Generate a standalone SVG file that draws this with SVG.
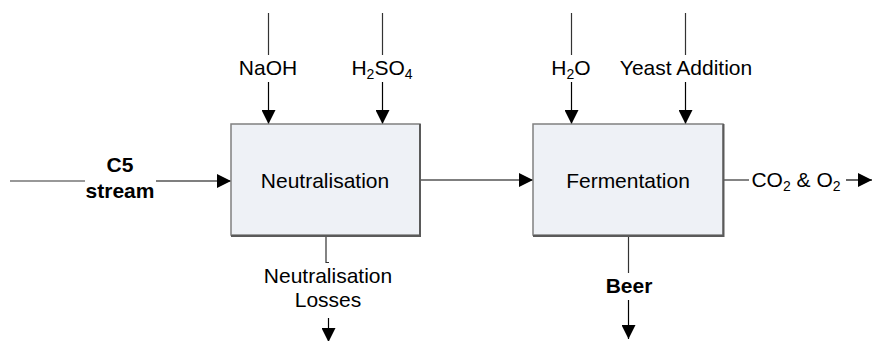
<svg xmlns="http://www.w3.org/2000/svg" width="873" height="341" viewBox="0 0 873 341">
  <defs>
    <marker id="arrow" viewBox="0 0 14 14" refX="14" refY="7" markerWidth="14" markerHeight="14" markerUnits="userSpaceOnUse" orient="auto">
      <path d="M0,0 L14,7 L0,14 Z" fill="#000"/>
    </marker>
    <style>
      .box { fill: #eef1f6; stroke: #808080; stroke-width: 1.5; }
      .shadow { fill: none; stroke: #5a5a5a; stroke-width: 2; }
      .line { fill: none; stroke: #333; stroke-width: 1.2; }
      .flow { fill: none; stroke: #000; stroke-width: 1.2; marker-end: url(#arrow); }
      text { font-family: "Liberation Sans", Arial, sans-serif; font-size: 21px; fill: #000; text-anchor: middle; }
      .bold { font-weight: bold; }
      .sub { font-size: 14px; }
    </style>
  </defs>

  <!-- connectors -->
  <g id="connectors">
    <!-- C5 stream feed -->
    <line class="line" x1="10" y1="181" x2="85" y2="181" stroke="#555"/>
    <line class="flow" x1="156" y1="181" x2="231" y2="181"/>
    <!-- NaOH -->
    <line class="line" x1="268.5" y1="13" x2="268.5" y2="55"/>
    <line class="flow" x1="268.5" y1="82" x2="268.5" y2="124"/>
    <!-- H2SO4 -->
    <line class="line" x1="382.5" y1="13" x2="382.5" y2="55"/>
    <line class="flow" x1="382.5" y1="82" x2="382.5" y2="124"/>
    <!-- Neutralisation to Fermentation -->
    <line class="flow" x1="420" y1="180" x2="533" y2="180"/>
    <!-- Neutralisation losses -->
    <path class="line" d="M326,236 V262.5 H329"/>
    <line class="flow" x1="328.5" y1="318" x2="328.5" y2="342"/>
    <!-- H2O -->
    <line class="line" x1="571.5" y1="13" x2="571.5" y2="55"/>
    <line class="flow" x1="571.5" y1="82" x2="571.5" y2="124"/>
    <!-- Yeast addition -->
    <line class="line" x1="685.5" y1="13" x2="685.5" y2="55"/>
    <line class="flow" x1="685.5" y1="82" x2="685.5" y2="124"/>
    <!-- Beer -->
    <line class="line" x1="628.5" y1="236" x2="628.5" y2="273"/>
    <line class="flow" x1="628.5" y1="300" x2="628.5" y2="339"/>
    <!-- CO2 & O2 off-gas -->
    <line class="line" x1="724" y1="180" x2="749" y2="180"/>
    <line class="flow" x1="846" y1="180" x2="872" y2="180"/>
  </g>

  <!-- Neutralisation unit -->
  <g id="neutralisation">
    <rect class="box" x="231" y="124" width="189" height="111"/>
    <path class="shadow" d="M420,124 V236 H231"/>
    <text x="325" y="188">Neutralisation</text>
  </g>

  <!-- Fermentation unit -->
  <g id="fermentation">
    <rect class="box" x="533" y="124" width="190" height="111"/>
    <path class="shadow" d="M723.5,124 V236 H533"/>
    <text x="628" y="188">Fermentation</text>
  </g>

  <!-- stream labels -->
  <g id="c5-stream">
    <text class="bold" x="120" y="172">C5</text>
    <text class="bold" x="120" y="198">stream</text>
  </g>
  <g id="naoh"><text x="268" y="75">NaOH</text></g>
  <g id="h2so4"><text x="382" y="75">H<tspan class="sub" dy="4">2</tspan><tspan dy="-4">SO</tspan><tspan class="sub" dy="4">4</tspan></text></g>
  <g id="h2o"><text x="571" y="75">H<tspan class="sub" dy="4">2</tspan><tspan dy="-4">O</tspan></text></g>
  <g id="yeast"><text x="686" y="75">Yeast Addition</text></g>
  <g id="losses">
    <text x="328" y="283">Neutralisation</text>
    <text x="328" y="307">Losses</text>
  </g>
  <g id="beer"><text class="bold" x="629" y="293">Beer</text></g>
  <g id="offgas"><text x="796" y="187">CO<tspan class="sub" dy="4">2</tspan><tspan dy="-4"> &amp; O</tspan><tspan class="sub" dy="4">2</tspan></text></g>
</svg>
